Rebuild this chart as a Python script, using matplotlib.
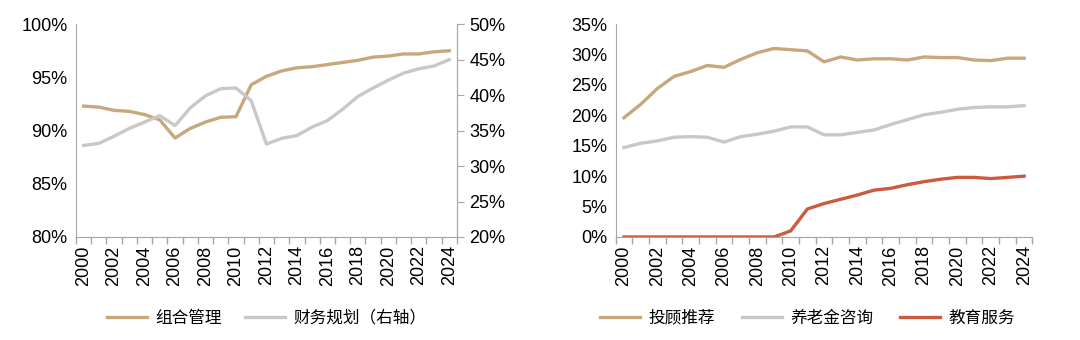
import numpy as np
import matplotlib.pyplot as plt
from matplotlib.ticker import FuncFormatter, FixedLocator

# Data
years = list(range(2000, 2025))

# left panel: portfolio management (left axis) and financial planning (right axis), %
portfolio = [92.3, 92.2, 91.9, 91.8, 91.5, 91.0, 89.3, 90.2, 90.8, 91.25, 91.3,
             94.3, 95.1, 95.6, 95.9, 96.0, 96.2, 96.4, 96.6, 96.9, 97.0,
             97.2, 97.2, 97.4, 97.5]
planning = [32.9, 33.2, 34.2, 35.3, 36.2, 37.1, 35.7, 38.2, 39.9, 40.9, 41.0,
            39.2, 33.1, 33.9, 34.3, 35.5, 36.4, 38.0, 39.8, 41.0, 42.1,
            43.1, 43.7, 44.1, 45.0]

# right panel, %
advice = [19.6, 21.8, 24.4, 26.4, 27.2, 28.2, 27.9, 29.2, 30.3, 31.0, 30.8,
          30.6, 28.8, 29.6, 29.1, 29.3, 29.3, 29.1, 29.6, 29.5, 29.5,
          29.1, 29.0, 29.4, 29.4]
pension = [14.7, 15.4, 15.8, 16.4, 16.5, 16.4, 15.6, 16.5, 16.9, 17.4, 18.1,
           18.1, 16.8, 16.8, 17.2, 17.6, 18.5, 19.3, 20.1, 20.5, 21.0,
           21.3, 21.4, 21.4, 21.6]
education = [0, 0, 0, 0, 0, 0, 0, 0, 0, 0, 1.0,
             4.6, 5.5, 6.2, 6.9, 7.7, 8.0, 8.6, 9.1, 9.5, 9.8,
             9.8, 9.6, 9.8, 10.0]

left_labels = ['组合管理', '财务规划（右轴）']
right_labels = ['投顾推荐', '养老金咨询', '教育服务']

TAN = '#C9A77C'
GREY = '#C8C8C8'
RED = '#CB5B3E'
SPINE = '#A6A6A6'

plt.rcParams['font.family'] = ['Liberation Sans', 'Noto Sans CJK SC', 'DejaVu Sans']
plt.rcParams['font.size'] = 13

pct = FuncFormatter(lambda v, p: '%d%%' % round(v))
x = np.arange(len(years))


def style_xaxis(ax):
    ax.set_xlim(-0.5, len(years) - 0.5)
    ax.xaxis.set_major_locator(FixedLocator(np.arange(-0.5, len(years), 1.0)))
    ax.set_xticklabels([])
    ax.xaxis.set_minor_locator(FixedLocator(x[::2]))
    ax.set_xticklabels([str(y) for y in years[::2]], minor=True, rotation=90)
    ax.tick_params(axis='x', which='major', length=5, color=SPINE, width=1)
    ax.tick_params(axis='x', which='minor', length=0, pad=6)
    ax.spines['bottom'].set_color(SPINE)
    ax.spines['left'].set_color(SPINE)
    ax.spines['top'].set_visible(False)


fig = plt.figure(figsize=(10.8, 3.4), dpi=100)

# ---- left panel
ax1 = fig.add_axes([0.0704, 0.303, 0.3526, 0.626])
ax1.plot(x, portfolio, color=TAN, lw=2.4, label=left_labels[0])
ax1.set_ylim(80, 100)
ax1.set_yticks(np.arange(80, 101, 5))
ax1.yaxis.set_major_formatter(pct)
ax1.tick_params(axis='y', length=0, pad=6)
style_xaxis(ax1)
ax1.spines['right'].set_color(SPINE)

ax2 = ax1.twinx()
ax2.plot(x, planning, color=GREY, lw=2.4, label=left_labels[1])
ax2.set_ylim(20, 50)
ax2.set_yticks(np.arange(20, 51, 5))
ax2.yaxis.set_major_formatter(pct)
ax2.tick_params(axis='y', length=5, color=SPINE, pad=4)
for s in ['top', 'left', 'bottom']:
    ax2.spines[s].set_visible(False)
ax2.spines['right'].set_color(SPINE)

h1, l1 = ax1.get_legend_handles_labels()
h2, l2 = ax2.get_legend_handles_labels()
ax1.legend(h1 + h2, l1 + l2, loc='center', bbox_to_anchor=(0.5, -0.38),
           ncol=2, frameon=False, fontsize=12, handlelength=2.4,
           handletextpad=0.5, columnspacing=1.4)

# ---- right panel
ax3 = fig.add_axes([0.570, 0.303, 0.386, 0.626])
ax3.plot(x, advice, color=TAN, lw=2.4, label=right_labels[0])
ax3.plot(x, pension, color=GREY, lw=2.4, label=right_labels[1])
ax3.plot(x, education, color=RED, lw=2.4, label=right_labels[2])
ax3.set_ylim(0, 35)
ax3.set_yticks(np.arange(0, 36, 5))
ax3.yaxis.set_major_formatter(pct)
ax3.tick_params(axis='y', length=0, pad=6)
style_xaxis(ax3)
ax3.spines['right'].set_visible(False)
ax3.legend(loc='center', bbox_to_anchor=(0.46, -0.38), ncol=3, frameon=False,
           fontsize=12, handlelength=2.4, handletextpad=0.5, columnspacing=1.6)

fig.savefig('out.png', dpi=100)
